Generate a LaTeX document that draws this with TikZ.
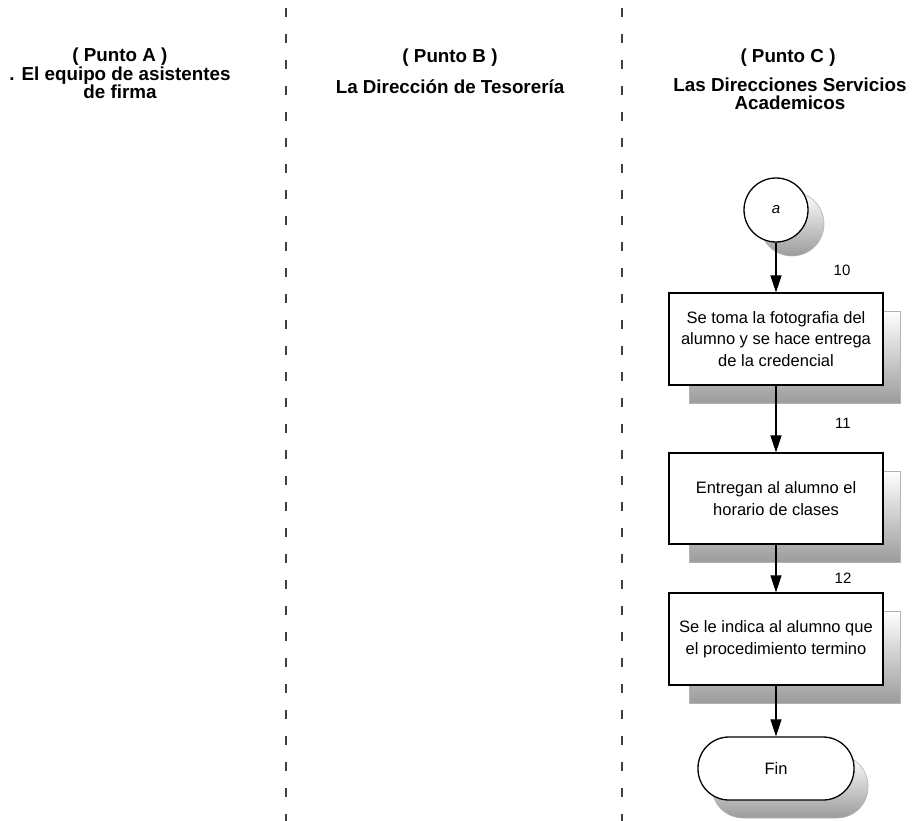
\documentclass[tikz,border=0pt]{standalone}
\usepackage{fontspec}
\setmainfont{Liberation Sans}
\usetikzlibrary{arrows.meta,calc,shadings}
\begin{document}
\begin{tikzpicture}[x=1pt,y=-1pt,
  lane/.style={line width=1.2pt, draw=black!75, dash pattern=on 9pt off 17pt},
  hdr/.style={font=\fontsize{18.8}{18}\selectfont\bfseries, align=center, inner sep=0pt},
  proc/.style={draw=black, line width=1.3pt, fill=white, minimum width=214pt, minimum height=92pt, align=center, font=\fontsize{16.5}{21.5}\selectfont, inner sep=0pt},
  conn/.style={draw=black, line width=1.3pt, fill=white, circle, minimum size=64pt, inner sep=0pt, font=\fontsize{15}{15}\selectfont},
  term/.style={draw=black, line width=1.3pt, fill=white, rounded corners=31pt, minimum width=156pt, minimum height=63pt, inner sep=0pt, font=\fontsize{16.5}{16.5}\selectfont},
  shd/.style={top color=white, bottom color=gray!78, draw=gray!60, line width=0.6pt},
  arr/.style={line width=1.1pt, -{Triangle[length=17pt,width=11pt]}},
  num/.style={font=\fontsize{15}{15}\selectfont, inner sep=0pt}
]
\useasboundingbox (0,0) rectangle (912,821);
\fill[white] (0,0) rectangle (912,821);

% lane separators
\coordinate (l1t) at (286,8);
\coordinate (l1b) at (286,821);
\coordinate (l2t) at (622,8);
\coordinate (l2b) at (622,821);
\draw[lane] (l1t) -- (l1b);
\draw[lane] (l2t) -- (l2b);

% headers
\node[hdr] (pa) at (120,57) {( Punto A )};
\node[hdr] (sa) at (120,82.5) {. El equipo de asistentes\\de firma};
\node[hdr] (pb) at (450,58) {( Punto B )};
\node[hdr] (sb) at (450,87) {La Dirección de Tesorería};
\node[hdr] (pc) at (788,58) {( Punto C )};
\node[hdr] (sc) at (790,94) {Las Direcciones Servicios\\Academicos};

% shadows
\coordinate (ac) at (776,210);
\shade[shd] ($(ac)+(16,14)$) circle[radius=32];
\shade[shd] (689,311) rectangle (900,403);
\shade[shd] (689,471) rectangle (900,562);
\shade[shd] (689,611) rectangle (900,703);
\shade[shd, rounded corners=31pt] (712,755) rectangle (868,818);

% flow nodes
\node[conn] (a) at (ac) {\itshape a};
\node[proc] (b1) at (776,339) {Se toma la fotografia del\\alumno y se hace entrega\\de la credencial};
\node[proc, minimum height=91pt] (b2) at (776,498.5) {Entregan al alumno el\\horario de clases};
\node[proc] (b3) at (776,639) {Se le indica al alumno que\\el procedimiento termino};
\node[term] (fin) at (776,768.5) {Fin};

% connectors
\draw[arr] (a) -- (b1);
\draw[arr] (b1) -- (b2);
\draw[arr] (b2) -- (b3);
\draw[arr] (b3) -- (fin);

% step numbers
\node[num] (n10) at (842,270) {10};
\node[num] (n11) at (843,423) {11};
\node[num] (n12) at (843,578) {12};
\end{tikzpicture}
\end{document}
